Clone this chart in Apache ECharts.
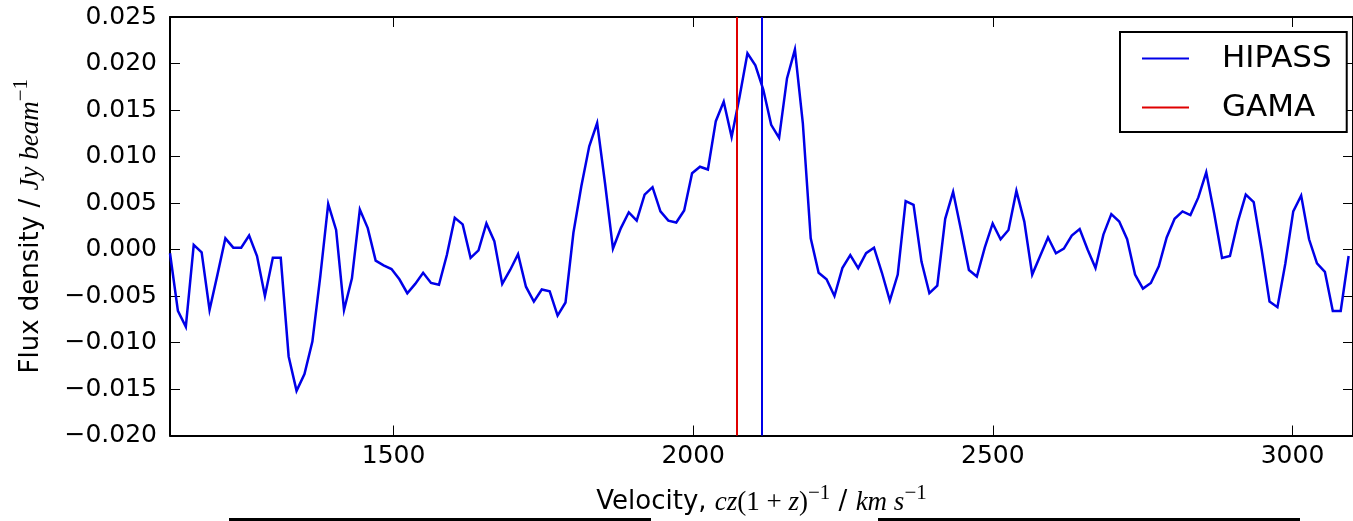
<!DOCTYPE html>
<html>
<head>
<meta charset="utf-8">
<script src="https://cdn.jsdelivr.net/npm/echarts@6/dist/echarts.min.js"></script>
<style>
  html, body { margin: 0; padding: 0; background: #fff; }
  #chart { width: 1353px; height: 521px; }
</style>
</head>
<body>
<div id="chart"></div>
<script>
// HI spectrum: channel velocities (km/s) and flux density (Jy/beam)
const velocity = [
  1126.9, 1140.1, 1153.3, 1166.5, 1179.7, 1192.9, 1206.1, 1219.3, 1232.5, 1245.7,
  1258.9, 1272.1, 1285.3, 1298.5, 1311.7, 1324.9, 1338.1, 1351.3, 1364.5, 1377.7,
  1390.9, 1404.1, 1417.3, 1430.5, 1443.7, 1456.9, 1470.1, 1483.3, 1496.5, 1509.7,
  1522.9, 1536.1, 1549.3, 1562.5, 1575.7, 1588.9, 1602.1, 1615.3, 1628.5, 1641.7,
  1654.9, 1668.1, 1681.3, 1694.5, 1707.7, 1720.9, 1734.1, 1747.3, 1760.5, 1773.7,
  1786.9, 1800.1, 1813.3, 1826.5, 1839.7, 1852.9, 1866.1, 1879.3, 1892.5, 1905.7,
  1918.9, 1932.1, 1945.3, 1958.5, 1971.7, 1984.9, 1998.1, 2011.3, 2024.5, 2037.7,
  2050.9, 2064.1, 2077.3, 2090.5, 2103.7, 2116.9, 2130.1, 2143.3, 2156.5, 2169.7,
  2182.9, 2196.1, 2209.3, 2222.5, 2235.7, 2248.9, 2262.1, 2275.3, 2288.5, 2301.7,
  2314.9, 2328.1, 2341.3, 2354.5, 2367.7, 2380.9, 2394.1, 2407.3, 2420.5, 2433.7,
  2446.9, 2460.1, 2473.3, 2486.5, 2499.7, 2512.9, 2526.1, 2539.3, 2552.5, 2565.7,
  2578.9, 2592.1, 2605.3, 2618.5, 2631.7, 2644.9, 2658.1, 2671.3, 2684.5, 2697.7,
  2710.9, 2724.1, 2737.3, 2750.5, 2763.7, 2776.9, 2790.1, 2803.3, 2816.5, 2829.7,
  2842.9, 2856.1, 2869.3, 2882.5, 2895.7, 2908.9, 2922.1, 2935.3, 2948.5, 2961.7,
  2974.9, 2988.1, 3001.3, 3014.5, 3027.7, 3040.9, 3054.1, 3067.3, 3080.5, 3093.7
];

const flux = [
  -0.0004, -0.0066, -0.0083, 0.0005, -0.0003, -0.0065, -0.0027, 0.0012, 0.0002, 0.0002,
  0.0015, -0.0007, -0.0050, -0.0009, -0.0009, -0.0115, -0.0152, -0.0134, -0.0099, -0.0029,
  0.0049, 0.0021, -0.0065, -0.0031, 0.0043, 0.0023, -0.0012, -0.0017, -0.0021, -0.0032,
  -0.0047, -0.0037, -0.0025, -0.0036, -0.0038, -0.0006, 0.0034, 0.0027, -0.0009, -0.0001,
  0.0028, 0.0009, -0.0037, -0.0022, -0.0005, -0.0040, -0.0056, -0.0043, -0.0045, -0.0071,
  -0.0057, 0.0018, 0.0068, 0.0111, 0.0136, 0.0071, 0.0001, 0.0023, 0.0040, 0.0031,
  0.0059, 0.0067, 0.0041, 0.0031, 0.0029, 0.0042, 0.0082, 0.0089, 0.0086, 0.0138,
  0.0159, 0.0121, 0.0164, 0.0211, 0.0198, 0.0172, 0.0134, 0.0120, 0.0184, 0.0215,
  0.0136, 0.0012, -0.0025, -0.0032, -0.0050, -0.0020, -0.0006, -0.0020, -0.0004, 0.0002,
  -0.0025, -0.0055, -0.0027, 0.0052, 0.0048, -0.0013, -0.0047, -0.0039, 0.0033, 0.0062,
  0.0021, -0.0022, -0.0029, 0.0002, 0.0028, 0.0011, 0.0021, 0.0063, 0.0030, -0.0027,
  -0.0007, 0.0013, -0.0004, 0.0001, 0.0015, 0.0022, 0.0000, -0.0020, 0.0016, 0.0038,
  0.0030, 0.0011, -0.0027, -0.0042, -0.0036, -0.0018, 0.0013, 0.0033, 0.0041, 0.0037,
  0.0056, 0.0083, 0.0039, -0.0009, -0.0007, 0.0030, 0.0059, 0.0051, 0.0000, -0.0056,
  -0.0062, -0.0015, 0.0041, 0.0058, 0.0011, -0.0015, -0.0024, -0.0066, -0.0066, -0.0007
];

// Systemic velocities of the two catalogues
const hipassVelocity = 2114.8;
const gamaVelocity = 2072.7;

// Axis extents and tick values
const velocityRange = [1126.9, 3101];
const velocityTicks = [1500, 2000, 2500, 3000];
const fluxRange = [-0.02, 0.025];
const fluxStep = 0.005;

const SANS = '"DejaVu Sans", "Liberation Sans", sans-serif';
const SERIF = '"Liberation Serif", "DejaVu Serif", serif';

const spectrum = velocity.map((v, i) => [v, flux[i]]);

const axisLine = { show: true, onZero: false, lineStyle: { color: '#000', width: 2 } };
const tickStyle = { color: '#000', width: 1 };

// Mixed sans / math-italic text for the axis titles
const titleRich = {
  t: { fontFamily: SANS, fontSize: 26, color: '#000', lineHeight: 40 },
  m: { fontFamily: SERIF, fontStyle: 'italic', fontSize: 27, color: '#000' },
  r: { fontFamily: SERIF, fontSize: 27, color: '#000' },
  s: { fontFamily: SERIF, fontSize: 21, color: '#000', verticalAlign: 'top', lineHeight: 21 }
};

const chart = echarts.init(document.getElementById('chart'), null, { renderer: 'canvas' });

chart.setOption({
  animation: false,
  backgroundColor: '#fff',
  grid: { left: 170, top: 17, right: -5, bottom: 85, containLabel: false },
  legend: {
    orient: 'vertical',
    left: 1120,
    top: 32,
    icon: 'rect',
    itemWidth: 47,
    itemHeight: 2,
    itemGap: 18,
    padding: [11, 15, 9, 22],
    borderColor: '#000',
    borderWidth: 2,
    borderRadius: 0,
    backgroundColor: '#fff',
    selectedMode: false,
    textStyle: {
      fontFamily: SANS, fontSize: 31, color: '#000', lineHeight: 30,
      padding: [0, 0, 0, 28]
    },
    data: ['HIPASS', 'GAMA']
  },
  xAxis: [
    {
      type: 'value',
      position: 'bottom',
      min: velocityRange[0],
      max: velocityRange[1],
      axisLine: axisLine,
      axisTick: { show: true, inside: true, length: 10, customValues: velocityTicks, lineStyle: tickStyle },
      axisLabel: {
        show: true, customValues: velocityTicks, margin: 8,
        fontFamily: SANS, fontSize: 25, color: '#000',
        formatter: v => String(v)
      },
      splitLine: { show: false },
      name: '{t|Velocity, }{m|cz}{r|(1 + }{m|z}{r|)}{s|−1}{t| / }{m|km s}{s|−1}',
      nameLocation: 'middle',
      nameGap: 47,
      nameTextStyle: { rich: titleRich }
    },
    {
      type: 'value',
      position: 'top',
      min: velocityRange[0],
      max: velocityRange[1],
      axisLine: axisLine,
      axisTick: { show: true, inside: true, length: 10, customValues: velocityTicks, lineStyle: tickStyle },
      axisLabel: { show: false },
      splitLine: { show: false }
    }
  ],
  yAxis: [
    {
      type: 'value',
      position: 'left',
      min: fluxRange[0],
      max: fluxRange[1],
      interval: fluxStep,
      axisLine: axisLine,
      axisTick: { show: true, inside: true, length: 10, lineStyle: tickStyle },
      axisLabel: {
        show: true, margin: 13,
        fontFamily: SANS, fontSize: 25, color: '#000',
        formatter: v => v.toFixed(3).replace('-', '\u2212')
      },
      splitLine: { show: false },
      name: '{t|Flux density / }{m|Jy beam}{s|−1}',
      nameLocation: 'middle',
      nameRotate: 90,
      nameGap: 119,
      nameTextStyle: { rich: titleRich }
    },
    {
      type: 'value',
      position: 'right',
      min: fluxRange[0],
      max: fluxRange[1],
      interval: fluxStep,
      axisLine: axisLine,
      axisTick: { show: true, inside: true, length: 10, lineStyle: tickStyle },
      axisLabel: { show: false },
      splitLine: { show: false }
    }
  ],
  series: [
    {
      name: 'HIPASS',
      type: 'line',
      xAxisIndex: 0,
      yAxisIndex: 0,
      data: spectrum,
      showSymbol: false,
      symbol: 'none',
      clip: true,
      z: 3,
      itemStyle: { color: '#0000e8' },
      lineStyle: { color: '#0000e8', width: 2.5, join: 'miter' },
      markLine: {
        silent: true,
        symbol: 'none',
        label: { show: false },
        lineStyle: { color: '#0000e8', width: 2, type: 'solid' },
        data: [{ xAxis: hipassVelocity }]
      }
    },
    {
      name: 'GAMA',
      type: 'line',
      xAxisIndex: 0,
      yAxisIndex: 0,
      data: [],
      showSymbol: false,
      z: 2,
      itemStyle: { color: '#e00000' },
      lineStyle: { color: '#e00000', width: 2 },
      markLine: {
        silent: true,
        symbol: 'none',
        label: { show: false },
        lineStyle: { color: '#e00000', width: 2, type: 'solid' },
        data: [{ xAxis: gamaVelocity }]
      }
    }
  ],
  graphic: [
    { type: 'rect', left: 229, top: 518, shape: { width: 422, height: 3 }, style: { fill: '#000' }, silent: true },
    { type: 'rect', left: 878, top: 518, shape: { width: 422, height: 3 }, style: { fill: '#000' }, silent: true }
  ]
});
</script>
</body>
</html>
